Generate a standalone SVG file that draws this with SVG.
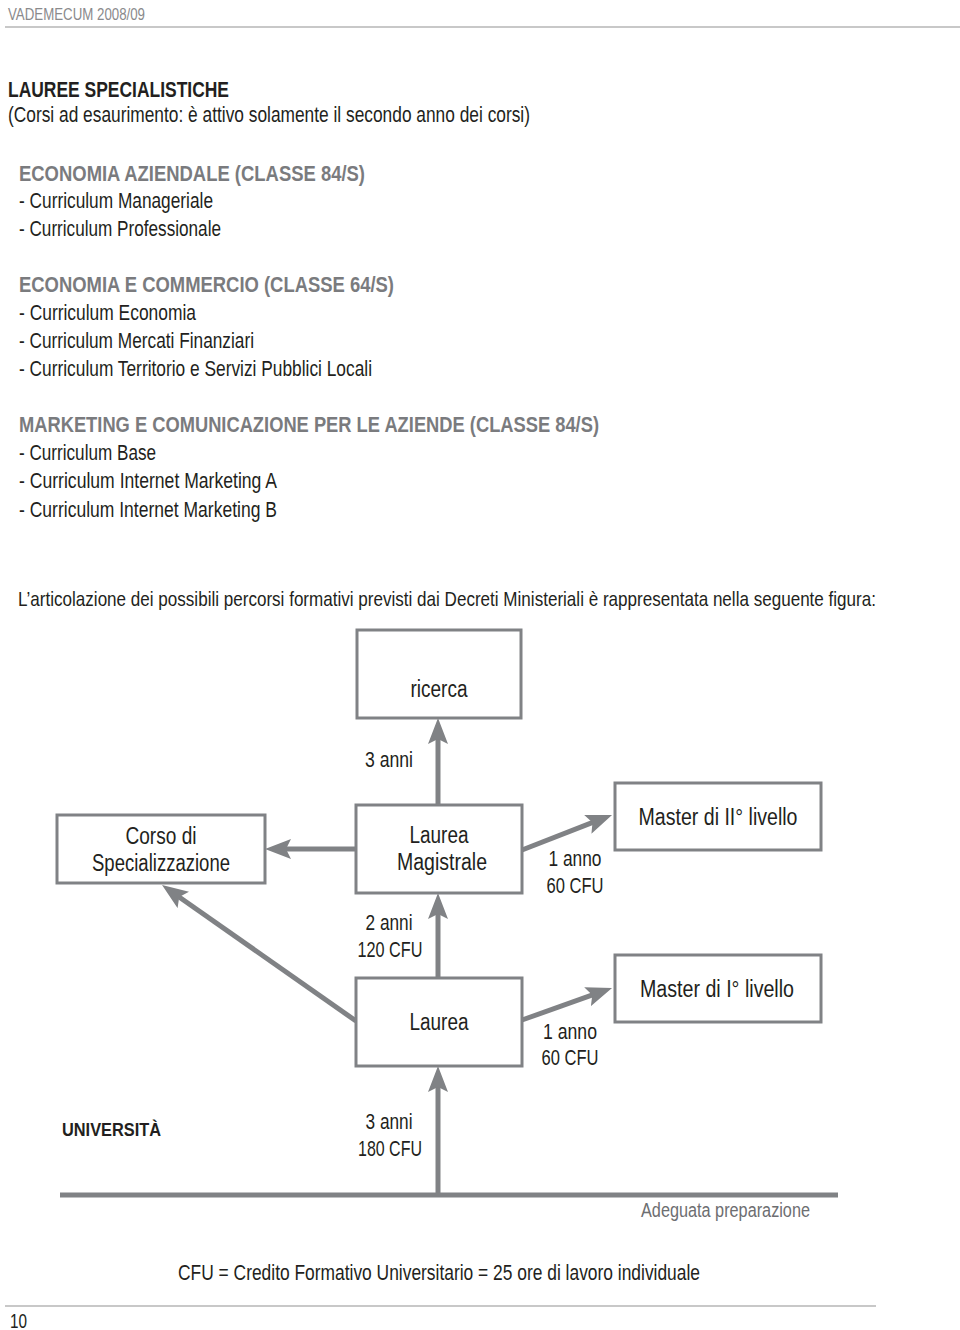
<svg xmlns="http://www.w3.org/2000/svg" width="960" height="1330" viewBox="0 0 960 1330">
<style>
text{font-family:"Liberation Sans Narrow","Liberation Sans",Arial,sans-serif;fill:#231f20}
.b{font-size:22px}
.h{font-size:22px;font-weight:bold;fill:#7a7b7e}
.d{font-size:23px}
.l{font-size:22px;text-anchor:middle}
.box{fill:#fff;stroke:#808285;stroke-width:3}
.c{stroke:#808285;stroke-width:5;fill:none}
.rule{stroke:#c8c8c8;stroke-width:2}
</style>
<defs>
<marker id="ah" viewBox="0 0 26 20" refX="6" refY="10" markerWidth="26" markerHeight="20" markerUnits="userSpaceOnUse" orient="auto">
<path d="M0,0 L26,10 L0,20 L5,10 z" fill="#808285"/>
</marker>
</defs>
<rect width="960" height="1330" fill="#fff"/>

<g id="page-header">
<text x="8" y="20" style="font-size:16px;fill:#8a8a8c" textLength="137" lengthAdjust="spacingAndGlyphs">VADEMECUM 2008/09</text>
<line class="rule" x1="5" y1="27" x2="960" y2="27"/>
</g>

<g id="intro">
<text x="8" y="97" style="font-size:22px;font-weight:bold" textLength="221" lengthAdjust="spacingAndGlyphs">LAUREE SPECIALISTICHE</text>
<text x="8" y="122" class="b" textLength="522" lengthAdjust="spacingAndGlyphs">(Corsi ad esaurimento: è attivo solamente il secondo anno dei corsi)</text>
<text x="19" y="181" class="h" textLength="346" lengthAdjust="spacingAndGlyphs">ECONOMIA AZIENDALE (CLASSE 84/S)</text>
<text x="19" y="208" class="b" textLength="194" lengthAdjust="spacingAndGlyphs">- Curriculum Manageriale</text>
<text x="19" y="236" class="b" textLength="202" lengthAdjust="spacingAndGlyphs">- Curriculum Professionale</text>
<text x="19" y="292" class="h" textLength="375" lengthAdjust="spacingAndGlyphs">ECONOMIA E COMMERCIO (CLASSE 64/S)</text>
<text x="19" y="320" class="b" textLength="177" lengthAdjust="spacingAndGlyphs">- Curriculum Economia</text>
<text x="19" y="348" class="b" textLength="235" lengthAdjust="spacingAndGlyphs">- Curriculum Mercati Finanziari</text>
<text x="19" y="376" class="b" textLength="353" lengthAdjust="spacingAndGlyphs">- Curriculum Territorio e Servizi Pubblici Locali</text>
<text x="19" y="432" class="h" textLength="580" lengthAdjust="spacingAndGlyphs">MARKETING E COMUNICAZIONE PER LE AZIENDE (CLASSE 84/S)</text>
<text x="19" y="460" class="b" textLength="137" lengthAdjust="spacingAndGlyphs">- Curriculum Base</text>
<text x="19" y="488" class="b" textLength="258" lengthAdjust="spacingAndGlyphs">- Curriculum Internet Marketing A</text>
<text x="19" y="517" class="b" textLength="258" lengthAdjust="spacingAndGlyphs">- Curriculum Internet Marketing B</text>
<text x="18" y="606" style="font-size:21px" textLength="858" lengthAdjust="spacingAndGlyphs">L’articolazione dei possibili percorsi formativi previsti dai Decreti Ministeriali è rappresentata nella seguente figura:</text>
</g>

<g id="connectors">
<line class="c" x1="60" y1="1195" x2="838" y2="1195"/>
<line class="c" x1="438" y1="1195" x2="438" y2="1086" marker-end="url(#ah)"/>
<line class="c" x1="438" y1="978" x2="438" y2="913" marker-end="url(#ah)"/>
<line class="c" x1="438" y1="805" x2="438" y2="738" marker-end="url(#ah)"/>
<line class="c" x1="356" y1="849" x2="285" y2="849" marker-end="url(#ah)"/>
<line class="c" x1="356" y1="1021" x2="178.4" y2="896.5" marker-end="url(#ah)"/>
<line class="c" x1="522" y1="850" x2="593.4" y2="822.2" marker-end="url(#ah)"/>
<line class="c" x1="522" y1="1020" x2="593.2" y2="994.7" marker-end="url(#ah)"/>
</g>

<g id="node-ricerca">
<rect class="box" x="357" y="630" width="164" height="88"/>
<text x="439" y="697" class="d" text-anchor="middle" textLength="57" lengthAdjust="spacingAndGlyphs">ricerca</text>
</g>

<g id="node-corso">
<rect class="box" x="57" y="815" width="208" height="68"/>
<text x="161" y="844" class="d" text-anchor="middle" textLength="71" lengthAdjust="spacingAndGlyphs">Corso di</text>
<text x="161" y="871" class="d" text-anchor="middle" textLength="138" lengthAdjust="spacingAndGlyphs">Specializzazione</text>
</g>

<g id="node-magistrale">
<rect class="box" x="356" y="805" width="166" height="88"/>
<text x="439" y="843" class="d" text-anchor="middle" textLength="59" lengthAdjust="spacingAndGlyphs">Laurea</text>
<text x="442" y="870" class="d" text-anchor="middle" textLength="90" lengthAdjust="spacingAndGlyphs">Magistrale</text>
</g>

<g id="node-laurea">
<rect class="box" x="356" y="978" width="166" height="88"/>
<text x="439" y="1030" class="d" text-anchor="middle" textLength="59" lengthAdjust="spacingAndGlyphs">Laurea</text>
</g>

<g id="node-master2">
<rect class="box" x="615" y="783" width="206" height="67"/>
<text x="718" y="825" class="d" text-anchor="middle" textLength="159" lengthAdjust="spacingAndGlyphs">Master di II° livello</text>
</g>

<g id="node-master1">
<rect class="box" x="615" y="955" width="206" height="67"/>
<text x="717" y="997" class="d" text-anchor="middle" textLength="154" lengthAdjust="spacingAndGlyphs">Master di I° livello</text>
</g>

<g id="labels">
<text x="389" y="767" class="l" textLength="48" lengthAdjust="spacingAndGlyphs">3 anni</text>
<text x="389" y="930" class="l" textLength="47" lengthAdjust="spacingAndGlyphs">2 anni</text>
<text x="390" y="957" class="l" textLength="65" lengthAdjust="spacingAndGlyphs">120 CFU</text>
<text x="575" y="866" class="l" textLength="53" lengthAdjust="spacingAndGlyphs">1 anno</text>
<text x="575" y="893" class="l" textLength="57" lengthAdjust="spacingAndGlyphs">60 CFU</text>
<text x="570" y="1039" class="l" textLength="54" lengthAdjust="spacingAndGlyphs">1 anno</text>
<text x="570" y="1065" class="l" textLength="57" lengthAdjust="spacingAndGlyphs">60 CFU</text>
<text x="389" y="1129" class="l" textLength="47" lengthAdjust="spacingAndGlyphs">3 anni</text>
<text x="390" y="1156" class="l" textLength="64" lengthAdjust="spacingAndGlyphs">180 CFU</text>
<text x="62" y="1136" style="font-size:19px;font-weight:bold" textLength="99" lengthAdjust="spacingAndGlyphs">UNIVERSITÀ</text>
<text x="810" y="1217" style="font-size:20px;fill:#6d6e71;text-anchor:end" textLength="169" lengthAdjust="spacingAndGlyphs">Adeguata preparazione</text>
</g>

<g id="footer">
<text x="178" y="1280" class="b" textLength="522" lengthAdjust="spacingAndGlyphs">CFU = Credito Formativo Universitario = 25 ore di lavoro individuale</text>
<line class="rule" x1="5" y1="1306" x2="876" y2="1306"/>
<text x="10" y="1328" style="font-size:20px" textLength="17" lengthAdjust="spacingAndGlyphs">10</text>
</g>
</svg>
